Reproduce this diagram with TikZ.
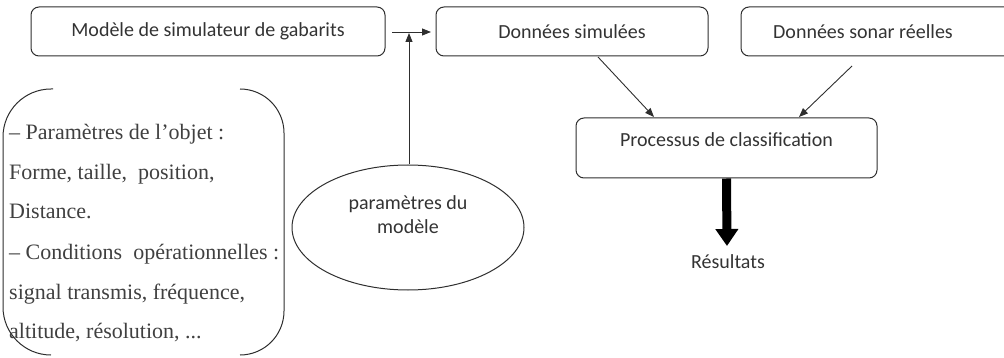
\documentclass[tikz,border=0pt]{standalone}
\usepackage{fontspec}
\setmainfont{Carlito}
\newfontfamily\serifb{Liberation Serif}
\usetikzlibrary{shapes.geometric,arrows.meta}
\definecolor{linec}{HTML}{2E2E2E}
\definecolor{textc}{HTML}{333333}
\definecolor{serc}{HTML}{404040}
\begin{document}
\begin{tikzpicture}[x=1pt,y=-1pt,
  box/.style={draw=linec, rounded corners=8pt, line width=1pt, inner sep=0pt,
    font=\fontsize{20}{24}\selectfont, text=textc},
  txt/.style={inner sep=0pt, font=\fontsize{20}{24}\selectfont, text=textc},
  sertxt/.style={inner sep=0pt, anchor=base west, font=\serifb\fontsize{22}{26}\selectfont, text=serc},
  arr/.style={draw=linec, line width=0.9pt, -{Triangle[length=9pt,width=7pt]}},
  bigarr/.style={draw=black, line width=9pt, -{Triangle[length=17pt,width=22pt]}},
  brk/.style={draw=linec, line width=1pt}
]
\useasboundingbox (0,0) rectangle (1004,358);
\clip (0,0) rectangle (1004,358);

% top boxes
\node[box, minimum width=354pt, minimum height=49pt] (m) at (208,31.5) {Modèle de simulateur de gabarits};
\node[box, minimum width=272pt, minimum height=49pt] (ds) at (572,31.5) {Données simulées};
\node[box, minimum width=279pt, minimum height=49pt,
  label={[txt,xshift=-17.5pt]center:Données sonar réelles}] (dr) at (880.5,31.5) {};

% classification box
\node[box, minimum width=301pt, minimum height=60pt,
  label={[txt,yshift=8pt]center:Processus de classification}] (pc) at (726.5,148) {};

% ellipse
\node[ellipse, draw=linec, line width=1pt, minimum width=232pt, minimum height=125pt, inner sep=0pt,
  label={[txt,align=center,yshift=12.5pt]center:paramètres du\\modèle}] (pm) at (408,227.5) {};

% results
\node[txt] (res) at (728,262) {Résultats};

% connectors
\coordinate (hs) at (392,32);
\coordinate (he) at (431,32);
\draw[arr] (hs) -- (he);
\coordinate (vt) at (409,33);
\draw[arr] (pm.north -| vt) -- (vt);

\coordinate (a1s) at (598,57);
\coordinate (a1e) at (654,117);
\draw[arr] (a1s) -- (a1e);
\coordinate (a2s) at (852,66);
\coordinate (a2e) at (799,117);
\draw[arr] (a2s) -- (a2e);

\coordinate (bt) at (727,246);
\draw[bigarr] (pc.south) -- (bt);

% bracket
\draw[brk, rounded corners=48pt] (53,89) -- (3,89) -- (3,355) -- (51,355);
\draw[brk, rounded corners=44pt] (240,89) -- (284,89) -- (284,355) -- (240,355);

% bracket text
\node[sertxt] (l1) at (9,140) {– Paramètres de l’objet :};
\node[sertxt] (l2) at (9,180) {Forme, taille,\ \ position,};
\node[sertxt] (l3) at (9,219) {Distance.};
\node[sertxt] (l4) at (9,259) {– Conditions\ \ opérationnelles :};
\node[sertxt] (l5) at (9,299) {signal transmis, fréquence,};
\node[sertxt] (l6) at (9,338) {altitude, résolution, ...};
\end{tikzpicture}
\end{document}
